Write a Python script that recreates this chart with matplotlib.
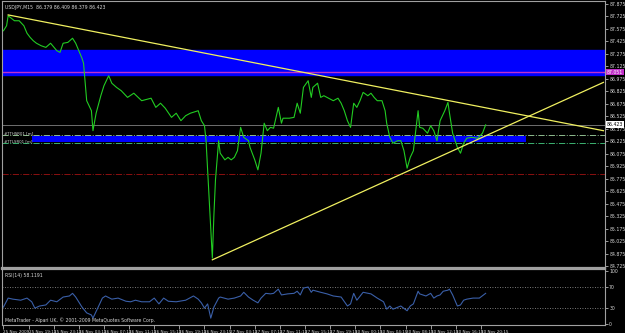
import matplotlib
matplotlib.use('Agg')
import numpy as np
from matplotlib import pyplot as plt
from matplotlib import transforms

# price samples (bar index on M15, close)
price_bar = [0, 2, 3, 5, 7, 10, 11, 13, 15, 17, 19, 21, 24, 27, 30, 34, 36, 38, 41, 44,
             46, 48, 50, 51, 53, 55, 56, 57, 59, 62, 64, 67, 69, 72, 75, 79, 83, 88, 94, 97,
             100, 103, 107, 110, 113, 116, 119, 124, 126, 128, 129, 131, 133, 134, 135, 137, 138, 141, 143, 145,
             147, 149, 151, 153, 156, 157, 160, 162, 164, 166, 168, 170, 172, 175, 177, 178, 182, 185, 187, 189,
             191, 194, 196, 197, 200, 202, 204, 206, 210, 213, 215, 217, 219, 221, 223, 225, 227, 229, 232, 234,
             236, 238, 241, 243, 244, 246, 248, 251, 253, 255, 257, 259, 261, 264, 265, 267, 270, 272, 274, 276,
             278, 281, 283, 284, 286, 289, 291, 293, 295, 298, 302, 305, 307]
price_close = [87.55, 87.61, 87.73, 87.70, 87.67, 87.67, 87.65, 87.61, 87.52, 87.47, 87.43, 87.40, 87.37, 87.35, 87.40, 87.31, 87.29, 87.40, 87.41, 87.46,
               87.40, 87.31, 87.22, 87.16, 86.71, 86.63, 86.59, 86.35, 86.56, 86.77, 86.89, 87.01, 86.92, 86.87, 86.83, 86.75, 86.80, 86.71, 86.74, 86.63,
               86.68, 86.62, 86.51, 86.56, 86.47, 86.53, 86.56, 86.59, 86.47, 86.41, 86.23, 85.52, 84.82, 85.34, 85.76, 86.23, 86.08, 86.00, 86.03, 86.00,
               86.03, 86.11, 86.39, 86.27, 86.23, 86.15, 86.00, 85.88, 86.08, 86.44, 86.35, 86.39, 86.38, 86.63, 86.44, 86.50, 86.50, 86.51, 86.68, 86.56,
               86.87, 86.95, 86.75, 86.87, 86.92, 86.75, 86.77, 86.75, 86.71, 86.74, 86.68, 86.59, 86.47, 86.39, 86.68, 86.63, 86.71, 86.81, 86.77, 86.80,
               86.75, 86.71, 86.71, 86.59, 86.44, 86.27, 86.20, 86.23, 86.23, 86.11, 85.90, 86.03, 86.11, 86.59, 86.39, 86.38, 86.32, 86.41, 86.35, 86.23,
               86.47, 86.59, 86.69, 86.56, 86.32, 86.15, 86.08, 86.20, 86.26, 86.27, 86.26, 86.32, 86.42]

rsi_bar = [0, 3, 6, 11, 15, 18, 20, 23, 27, 30, 34, 38, 42, 44, 46, 50, 53, 56, 57, 60,
           63, 65, 69, 73, 78, 81, 84, 88, 93, 96, 99, 102, 105, 110, 116, 121, 124, 126, 128, 130,
           132, 134, 137, 138, 143, 147, 151, 153, 156, 159, 162, 164, 167, 170, 172, 175, 177, 181, 185, 187,
           189, 191, 194, 196, 197, 202, 206, 210, 215, 219, 221, 223, 225, 229, 234, 238, 242, 244, 246, 248,
           253, 257, 259, 261, 264, 265, 269, 272, 274, 276, 278, 280, 283, 284, 286, 289, 291, 293, 295, 299,
           302, 303, 307]
rsi_val = [32, 49, 47, 45, 49, 42, 30, 34, 36, 45, 42, 51, 53, 58, 51, 32, 21, 17, 11, 30,
           49, 53, 47, 49, 43, 42, 45, 42, 42, 49, 38, 49, 43, 42, 45, 53, 47, 40, 30, 38,
           11, 32, 49, 51, 47, 49, 53, 60, 51, 45, 40, 49, 58, 57, 58, 66, 55, 57, 58, 62,
           55, 68, 70, 60, 64, 60, 57, 53, 51, 34, 38, 58, 45, 60, 57, 49, 42, 28, 34, 28,
           34, 25, 34, 38, 62, 57, 53, 58, 49, 53, 55, 62, 64, 66, 55, 34, 36, 45, 47, 49,
           49, 49, 58]

# trendlines (bar, price)
upper_tl_bar = [3, 382]
upper_tl_price = [87.74, 86.35]
lower_tl_bar = [133, 382]
lower_tl_price = [84.80, 86.93]

# horizontal levels
zone_hi = (87.013, 87.324)
zone_lo = (86.215, 86.285)
zone_lo_bars = (18, 333)
sr_level_1 = 86.294
sr_level_2 = 86.198
red_level = 85.827
magenta_level = 87.051
bid = 86.423

time_labels = ['25 Nov 2009', '25 Nov 19:15', '25 Nov 23:15', '26 Nov 03:15', '26 Nov 07:15',
               '26 Nov 11:15', '26 Nov 15:15', '26 Nov 19:15', '26 Nov 23:15', '27 Nov 03:15',
               '27 Nov 07:15', '27 Nov 11:15', '27 Nov 15:15', '27 Nov 19:15', '30 Nov 00:15',
               '30 Nov 04:15', '30 Nov 08:15', '30 Nov 12:15', '30 Nov 16:15', '30 Nov 20:15']
price_ticks = [84.725 + 0.15 * k for k in range(22)]

fg = '#d8d8d8'
narrow = ['Liberation Sans Narrow', 'DejaVu Sans']
fig = plt.figure(figsize=(6.25, 3.33), dpi=100, facecolor='black')
ax = fig.add_axes([0.003, 0.195, 0.965, 0.803])
rsi = fig.add_axes([0.003, 0.024, 0.965, 0.168], sharex=ax)

for a in (ax, rsi):
    a.set_facecolor('black')
    for s in a.spines.values():
        s.set_color('#a0a0a0')
        s.set_linewidth(0.8)
    a.yaxis.tick_right()
    a.tick_params(colors=fg, labelsize=3.3, length=2, width=0.5, pad=1)
ax.spines['bottom'].set_linewidth(1.6)
rsi.spines['top'].set_linewidth(1.6)

# main panel
ax.axhspan(*zone_hi, color='#0000ff', zorder=1)
ax.axhline(magenta_level, color='#c030c8', lw=1, zorder=2)
ax.fill_between(zone_lo_bars, zone_lo[0], zone_lo[1], color='#0000ff', zorder=1, lw=0)
ax.axhline(sr_level_1, color='#8fbc8f', lw=0.7, ls='-.', zorder=2)
ax.axhline(sr_level_2, color='#3cb371', lw=0.7, ls='-.', zorder=2)
ax.axhline(red_level, color='#8b1010', lw=0.7, ls='-.', zorder=2)
ax.axhline(bid, color='#808080', lw=0.6, zorder=2)
ax.plot(price_bar, price_close, color='#22cc22', lw=0.8, zorder=3)
ax.plot(upper_tl_bar, upper_tl_price, color='#f0f060', lw=0.9, zorder=4)
ax.plot(lower_tl_bar, lower_tl_price, color='#f0f060', lw=0.9, zorder=4)

ax.set_xlim(-1, 383)
ax.set_ylim(84.701, 87.911)
ax.set_yticks(price_ticks)
ax.set_yticklabels([f'{p:.3f}' for p in price_ticks])
ax.tick_params(axis='x', bottom=False, labelbottom=False)

tr = transforms.blended_transform_factory(ax.transAxes, ax.transData)
ax.text(1.003, magenta_level, f'{magenta_level:.3f}', transform=tr, fontsize=3.3, color='white',
        va='center', ha='left', bbox=dict(boxstyle='square,pad=0.15', fc='#c030c8', ec='none'))
ax.text(1.003, bid, f'{bid:.3f}', transform=tr, fontsize=3.3, color='black',
        va='center', ha='left', bbox=dict(boxstyle='square,pad=0.15', fc='white', ec='none'))
ax.text(0.004, sr_level_1, '#TTHSR01 [m]', transform=tr, fontsize=2.8, color=fg, va='bottom')
ax.text(0.004, sr_level_2, '#TTLSR01 [m]', transform=tr, fontsize=2.8, color=fg, va='bottom')
ax.text(0.006, 0.985, 'USDJPY,M15  86.379 86.409 86.379 86.423', transform=ax.transAxes,
        fontsize=3.3, color=fg, va='top')

# RSI panel
rsi.axhline(70, color='#a0a0a0', lw=0.6, ls=(0, (1, 2)))
rsi.axhline(30, color='#a0a0a0', lw=0.6, ls=(0, (1, 2)))
rsi.plot(rsi_bar, rsi_val, color='#3a5fa8', lw=0.8)
rsi.set_ylim(-2, 104)
rsi.set_yticks([0, 30, 70, 100])
rsi.set_yticklabels(['0', '30', '70', '100'])
rsi.text(0.006, 0.93, 'RSI(14) 58.1191', transform=rsi.transAxes, fontsize=3.3, color=fg, va='top')
rsi.text(0.006, 0.04, 'MetaTrader - Alpari UK, \u00a9 2001-2009 MetaQuotes Software Corp.',
         transform=rsi.transAxes, fontsize=3.3, color=fg, va='bottom')

rsi.set_xticks([16 * i for i in range(len(time_labels))])
rsi.set_xticklabels(time_labels, ha='left', family=narrow)
rsi.tick_params(axis='x', labelsize=3.0, length=3, pad=0.5)

fig.savefig('out.png', dpi=100, facecolor='black')
